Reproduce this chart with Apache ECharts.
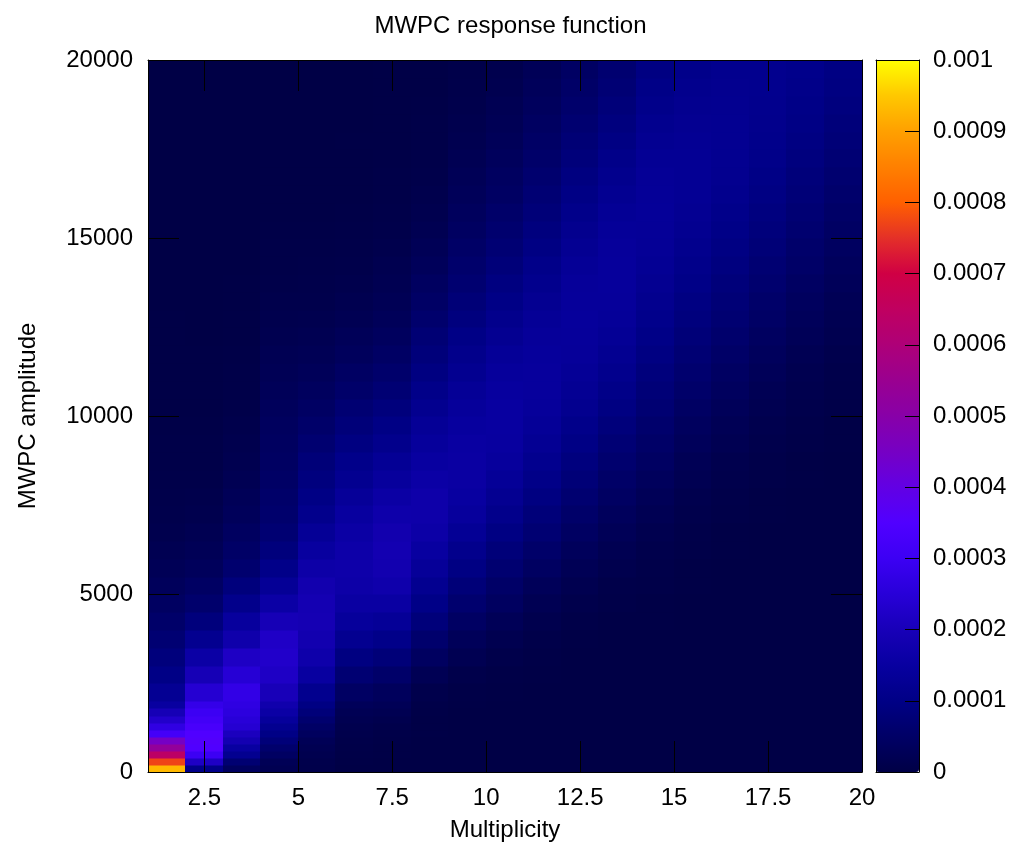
<!DOCTYPE html>
<html>
<head>
<meta charset="utf-8">
<script src="https://cdn.jsdelivr.net/npm/echarts@6/dist/echarts.min.js"></script>
<style>html,body{margin:0;padding:0;background:#fff;}#chart{width:1021px;height:847px;}</style>
</head>
<body>
<div id="chart"></div>
<script>
// Multiplicity columns: each column spans [m, m+1]
const multiplicity = [1,2,3,4,5,6,7,8,9,10,11,12,13,14,15,16,17,18,19];
// Amplitude bin edges
const ampEdges = [0,200,400,600,800,1000,1200,1400,1600,1800,2000,
  2500,3000,3500,4000,4500,5000,5500,6000,6500,7000,7500,8000,8500,9000,9500,10000,
  10500,11000,11500,12000,12500,13000,13500,14000,14500,15000,15500,16000,16500,17000,
  17500,18000,18500,19000,19500,20000];
// Response values in units of 1e-6, one array per multiplicity column (bottom bin first)
const m1  = [930,770,640,530,450,320,270,230,195,150, 125,100,85,68,55,42,33,25,18,13, 10,8,6,5,4,3,2,2,1,1, 1,1,0,0,0,0,0,0,0,0, 0,0,0,0,0,0];
const m2  = [105,220,300,350,355,350,330,315,300,280, 240,195,160,120,85,60,45,33,25,18, 13,10,7,5,4,3,2,2,1,1, 0,0,0,0,0,0,0,0,0,0, 0,0,0,0,0,0];
const m3  = [37,68,120,150,185,210,240,250,260,268, 275,245,218,172,145,110,85,62,50,40, 32,26,20,16,12,10,7,5,4,3, 2,2,1,1,0,0,0,0,0,0, 0,0,0,0,0,0];
const m4  = [18,25,43,60,80,100,120,140,160,175, 200,220,228,222,195,160,130,105,85,68, 60,54,48,44,40,37,33,28,24,20, 16,12,9,7,5,4,3,2,2,1, 1,0,0,0,0,0];
const m5  = [8,10,14,18,25,38,48,62,80,95, 115,150,170,182,190,188,180,165,148,130, 112,98,88,78,65,55,45,37,30,24, 18,14,10,8,6,4,3,2,2,1, 1,0,0,0,0,0];
const m6  = [0,2,3,5,7,10,13,17,22,30, 45,68,92,120,140,155,165,168,166,158, 148,135,120,108,92,80,68,55,45,35, 28,20,15,11,8,6,4,3,2,2, 1,1,0,0,0,0];
const m7  = [0,0,1,2,3,5,8,12,18,25, 35,55,78,105,132,155,172,182,185,180, 170,158,142,128,112,98,84,70,58,47, 38,30,24,19,15,11,8,6,5,4, 3,2,2,1,1,1];
const m8  = [0,0,0,0,0,1,1,2,3,5, 10,22,40,60,82,102,120,135,150,162, 168,168,160,150,140,130,118,105,92,82, 72,60,48,40,32,25,19,14,11,8, 6,5,4,3,2,2];
const m9  = [0,0,0,0,0,0,0,0,0,1, 3,8,18,30,45,62,78,95,112,128, 142,150,155,155,152,146,138,130,120,110, 100,88,76,66,58,50,42,36,30,25, 20,16,12,10,8,6];
const m10 = [0,0,0,0,0,0,0,0,0,0, 1,3,8,15,26,40,52,66,80,96, 110,122,133,142,148,151,150,146,140,132, 122,112,100,90,80,70,62,54,46,40, 34,28,24,20,16,13];
const m11 = [0,0,0,0,0,0,0,0,0,0, 0,1,3,6,12,20,30,42,55,68, 80,92,104,115,125,133,139,142,143,140, 136,130,122,114,105,96,87,78,70,62, 55,48,42,36,31,27];
const m12 = [0,0,0,0,0,0,0,0,0,0, 0,0,0,2,5,10,16,24,33,43, 54,65,76,87,98,108,117,125,131,136, 139,140,139,136,131,124,116,108,99,90, 81,73,65,58,51,45];
const m13 = [0,0,0,0,0,0,0,0,0,0, 0,0,0,0,2,4,7,12,18,26, 34,43,52,62,72,83,94,104,113,121, 128,134,138,140,140,138,134,128,121,113, 105,96,88,80,72,65];
const m14 = [0,0,0,0,0,0,0,0,0,0, 0,0,0,0,1,2,4,6,10,14, 20,27,35,43,51,60,68,76,85,93, 101,109,116,122,127,131,133,134,133,130, 126,121,115,108,101,94];
const m15 = [0,0,0,0,0,0,0,0,0,0, 0,0,0,0,0,0,1,2,4,6, 9,13,18,24,31,38,46,54,62,70, 78,86,94,101,108,114,119,123,126,127, 127,125,122,118,113,107];
const m16 = [0,0,0,0,0,0,0,0,0,0, 0,0,0,0,0,0,0,0,1,2, 4,6,9,13,18,24,30,37,44,51, 59,67,75,82,89,96,102,108,113,117, 120,121,121,120,118,115];
const m17 = [0,0,0,0,0,0,0,0,0,0, 0,0,0,0,0,0,0,0,0,0, 1,2,4,6,9,13,17,22,28,34, 41,48,55,62,69,76,83,89,95,100, 105,109,112,114,115,115];
const m18 = [0,0,0,0,0,0,0,0,0,0, 0,0,0,0,0,0,0,0,0,0, 0,0,1,2,4,6,9,12,16,21, 26,32,38,44,51,57,64,70,76,82, 88,93,98,102,106,109];
const m19 = [0,0,0,0,0,0,0,0,0,0, 0,0,0,0,0,0,0,0,0,0, 0,0,0,0,1,2,4,6,8,11, 15,19,24,29,34,40,46,52,58,64, 70,76,82,87,92,96];
const columns = [m1,m2,m3,m4,m5,m6,m7,m8,m9,m10,m11,m12,m13,m14,m15,m16,m17,m18,m19];
const valueScale = 1e-6;

// Tick labels
const xTicks = [2.5, 5, 7.5, 10, 12.5, 15, 17.5, 20];
const colorTicksMax = 0.001;

// Palette (gnuplot-like), evenly spaced from 0 to 0.001
const palette = ['#000046','#000066','#000086','#0800a0','#1800b8','#2800d8','#3c00f4','#5000ff',
  '#6200e4','#7600c4','#8800a8','#9a0090','#ae0078','#c00060','#d00044','#e43028',
  '#ff6000','#ff8000','#ffa000','#ffc800','#ffff00'];

const cells = [];
columns.forEach((col, ci) => {
  const m = multiplicity[ci];
  col.forEach((v, bi) => {
    cells.push([m, m + 1, ampEdges[bi], ampEdges[bi + 1], v * valueScale]);
  });
});

const FONT = 'Liberation Sans, Arial, sans-serif';
const FS = 24;
const chart = echarts.init(document.getElementById('chart'), null, {renderer: 'canvas'});
const tickStyle = {color: '#000', width: 1};
const lineOnly = {show: true, onZero: false, lineStyle: tickStyle};
const plain = v => String(v);
chart.setOption({
  animation: false,
  backgroundColor: '#fff',
  title: {
    text: 'MWPC response function', left: 'center', top: 9,
    textStyle: {fontFamily: FONT, fontSize: FS, fontWeight: 'normal', color: '#000'}
  },
  grid: [
    {left: 148, top: 60, width: 714, height: 712, show: false},
    {left: 876, top: 60, width: 43, height: 712, show: false}
  ],
  xAxis: [
    {gridIndex: 0, type: 'value', min: 1, max: 20, position: 'bottom', z: 10,
     name: 'Multiplicity', nameLocation: 'middle', nameGap: 46,
     nameTextStyle: {fontFamily: FONT, fontSize: FS, color: '#000'},
     axisLine: lineOnly,
     axisTick: {show: true, inside: true, length: 31, customValues: xTicks, lineStyle: tickStyle},
     axisLabel: {show: true, customValues: xTicks, margin: 14, formatter: plain, fontFamily: FONT, fontSize: FS, color: '#000'},
     splitLine: {show: false}},
    {gridIndex: 0, type: 'value', min: 1, max: 20, position: 'top', z: 10,
     axisLine: lineOnly,
     axisTick: {show: true, inside: true, length: 31, customValues: xTicks, lineStyle: tickStyle},
     axisLabel: {show: false}, splitLine: {show: false}},
    {gridIndex: 1, type: 'value', min: 0, max: 1, position: 'bottom', z: 10,
     axisLine: lineOnly, axisTick: {show: false}, axisLabel: {show: false}, splitLine: {show: false}},
    {gridIndex: 1, type: 'value', min: 0, max: 1, position: 'top', z: 10,
     axisLine: lineOnly, axisTick: {show: false}, axisLabel: {show: false}, splitLine: {show: false}}
  ],
  yAxis: [
    {gridIndex: 0, type: 'value', min: 0, max: 20000, interval: 5000, position: 'left', z: 10,
     name: 'MWPC amplitude', nameLocation: 'middle', nameGap: 108, nameRotate: 90,
     nameTextStyle: {fontFamily: FONT, fontSize: FS, color: '#000'},
     axisLine: lineOnly,
     axisTick: {show: true, inside: true, length: 31, lineStyle: tickStyle},
     axisLabel: {margin: 15, formatter: plain, fontFamily: FONT, fontSize: FS, color: '#000'},
     splitLine: {show: false}},
    {gridIndex: 0, type: 'value', min: 0, max: 20000, interval: 5000, position: 'right', z: 10,
     axisLine: lineOnly,
     axisTick: {show: true, inside: true, length: 31, lineStyle: tickStyle},
     axisLabel: {show: false}, splitLine: {show: false}},
    {gridIndex: 1, type: 'value', min: 0, max: colorTicksMax, interval: 0.0001, position: 'right', z: 10,
     axisLine: lineOnly,
     axisTick: {show: true, inside: true, length: 14, lineStyle: tickStyle},
     axisLabel: {margin: 14, fontFamily: FONT, fontSize: FS, color: '#000'},
     splitLine: {show: false}},
    {gridIndex: 1, type: 'value', min: 0, max: colorTicksMax, position: 'left', z: 10,
     axisLine: lineOnly, axisTick: {show: false}, axisLabel: {show: false}, splitLine: {show: false}}
  ],
  visualMap: {
    type: 'continuous', min: 0, max: colorTicksMax, dimension: 4, seriesIndex: 0,
    show: true, calculable: false, hoverLink: false, orient: 'vertical', z: 1,
    left: 876, top: 60, itemWidth: 43, itemHeight: 712, padding: 0,
    inRange: {color: palette}
  },
  series: [{
    type: 'custom', xAxisIndex: 0, yAxisIndex: 0,
    encode: {x: [0, 1], y: [2, 3]},
    data: cells,
    renderItem: function (params, api) {
      const p0 = api.coord([api.value(0), api.value(3)]);
      const p1 = api.coord([api.value(1), api.value(2)]);
      const x = Math.floor(p0[0]), y = Math.floor(p0[1]);
      return {
        type: 'rect',
        shape: {x: x, y: y, width: Math.ceil(p1[0]) - x + 0.5, height: Math.ceil(p1[1]) - y + 0.5},
        style: {fill: api.visual('color')}
      };
    }
  }]
});
</script>
</body>
</html>
